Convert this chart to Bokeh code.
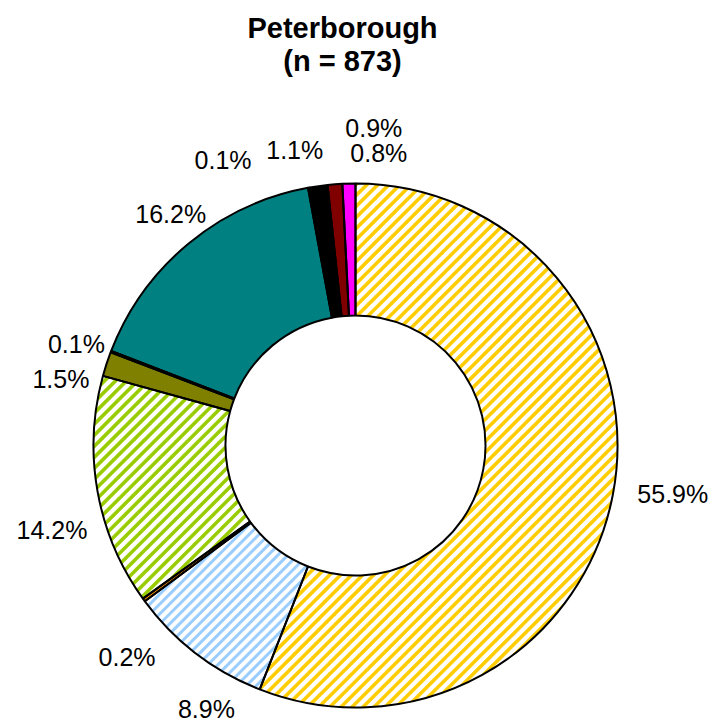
import math
from bokeh.plotting import figure
from bokeh.models import ColumnDataSource, Range1d
from bokeh.core.properties import value
from bokeh.embed import file_html
from bokeh.resources import INLINE

# ---- data ----
title_lines = ["Peterborough", "(n = 873)"]
labels = ["55.9%", "8.9%", "0.2%", "14.2%", "1.5%", "0.1%", "16.2%", "0.1%", "1.1%", "0.9%", "0.8%"]
values = [55.9, 8.9, 0.2, 14.2, 1.5, 0.1, 16.2, 0.1, 1.1, 0.9, 0.8]
colors = ["#FFCC00", "#99CCFF", "#FF9900", "#99CC00", "#808000", "#969696",
          "#008080", "#FF0000", "#000000", "#800000", "#FF00FF"]
hatched = [True, True, False, True, False, False, False, False, False, False, False]

# ---- layout (pixels) ----
W, H = 713, 724
CX, CY = 355, H - 445
R_OUT, R_IN = 262, 130
lab_nudge_deg = [-2, -8, -6.6, -5.3, -5.4, -1, 1, -14.6, -3.5, 7.8, 6]
lab_radius = [321, 303, 311, 315, 302, 297, 296, 315, 302, 318, 293]
stripe_period = [7.8, 7.0, 7.8, 7.8, 7.8, 7.8, 7.8, 7.8, 7.8, 7.8, 7.8]   # perpendicular px
stripe_width = [3.2, 2.6, 3.2, 3.2, 3.2, 3.2, 3.2, 3.2, 3.2, 3.2, 3.2]

total = sum(values)
starts, ends, mids = [], [], []
acc = 0.0
for v in values:
    a = acc / total
    acc += v
    b = acc / total
    starts.append(math.pi / 2 - 2 * math.pi * a)
    ends.append(math.pi / 2 - 2 * math.pi * b)
    mids.append(360.0 * (a + b) / 2)

fill = ["white" if h else c for h, c in zip(hatched, colors)]
src = ColumnDataSource(dict(start=starts, end=ends, fill=fill))


def sector_polygon(a0, a1):
    n = max(4, int(abs(a1 - a0) / (2 * math.pi) * 720))
    pts = []
    for i in range(n + 1):
        t = a0 + (a1 - a0) * i / n
        pts.append((CX + R_OUT * math.cos(t), CY + R_OUT * math.sin(t)))
    for i in range(n + 1):
        t = a1 + (a0 - a1) * i / n
        pts.append((CX + R_IN * math.cos(t), CY + R_IN * math.sin(t)))
    return pts


def clip_half(poly, a, b, c):
    # keep a*x + b*y <= c
    out = []
    n = len(poly)
    for i in range(n):
        P = poly[i]
        Q = poly[(i + 1) % n]
        fp = a * P[0] + b * P[1] - c
        fq = a * Q[0] + b * Q[1] - c
        if fp <= 0:
            out.append(P)
        if (fp < 0 < fq) or (fq < 0 < fp):
            t = fp / (fp - fq)
            out.append((P[0] + t * (Q[0] - P[0]), P[1] + t * (Q[1] - P[1])))
    return out


sx, sy, scol = [], [], []
s2 = math.sqrt(2)
step = math.radians(5)
for i, h in enumerate(hatched):
    if not h:
        continue
    a0, a1 = starts[i], ends[i]
    nsub = max(1, int(math.ceil(abs(a1 - a0) / step)))
    per, wid = stripe_period[i], stripe_width[i]
    for j in range(nsub):
        b0 = a0 + (a1 - a0) * j / nsub
        b1 = a0 + (a1 - a0) * (j + 1) / nsub
        poly = sector_polygon(b0, b1)
        k = -R_OUT - per
        while k < R_OUT + per:
            # u = ((y-CY) - (x-CX))/sqrt2 within [k, k+wid]
            q = clip_half(poly, 1 / s2, -1 / s2, -k + (CX - CY) / s2)
            if len(q) >= 3:
                q = clip_half(q, -1 / s2, 1 / s2, k + wid + (CY - CX) / s2)
            if len(q) >= 3:
                sx.append([pt[0] for pt in q])
                sy.append([pt[1] for pt in q])
                scol.append(colors[i])
            k += per

p = figure(width=W, height=H, output_backend="svg", toolbar_location=None,
           x_range=Range1d(0, W), y_range=Range1d(0, H), min_border=0)
p.axis.visible = False
p.xgrid.visible = False
p.ygrid.visible = False
p.outline_line_color = None
p.background_fill_color = "white"

p.annular_wedge(x=CX, y=CY, inner_radius=R_IN, outer_radius=R_OUT,
                start_angle="start", end_angle="end", direction="clock",
                fill_color="fill", line_color=None, source=src)
p.patches(xs=sx, ys=sy, fill_color=scol, line_color=scol, line_width=0.5)
p.annular_wedge(x=CX, y=CY, inner_radius=R_IN, outer_radius=R_OUT,
                start_angle="start", end_angle="end", direction="clock",
                fill_color=None, line_color="black", line_width=2, source=src)

lx, ly = [], []
for m, n, r in zip(mids, lab_nudge_deg, lab_radius):
    t = math.radians(m + n)
    lx.append(CX + r * math.sin(t))
    ly.append(CY + r * math.cos(t))

p.text(x=lx, y=ly, text=labels, text_align="center", text_baseline="middle",
       text_font=value("Liberation Sans"), text_font_size="25px", text_color="black")

p.text(x=[342, 342], y=[H - 27, H - 60], text=title_lines, text_align="center",
       text_baseline="middle", text_font=value("Liberation Sans"),
       text_font_style="bold", text_font_size="29px", text_color="black")

open("out.html", "w").write(file_html(p, INLINE))
